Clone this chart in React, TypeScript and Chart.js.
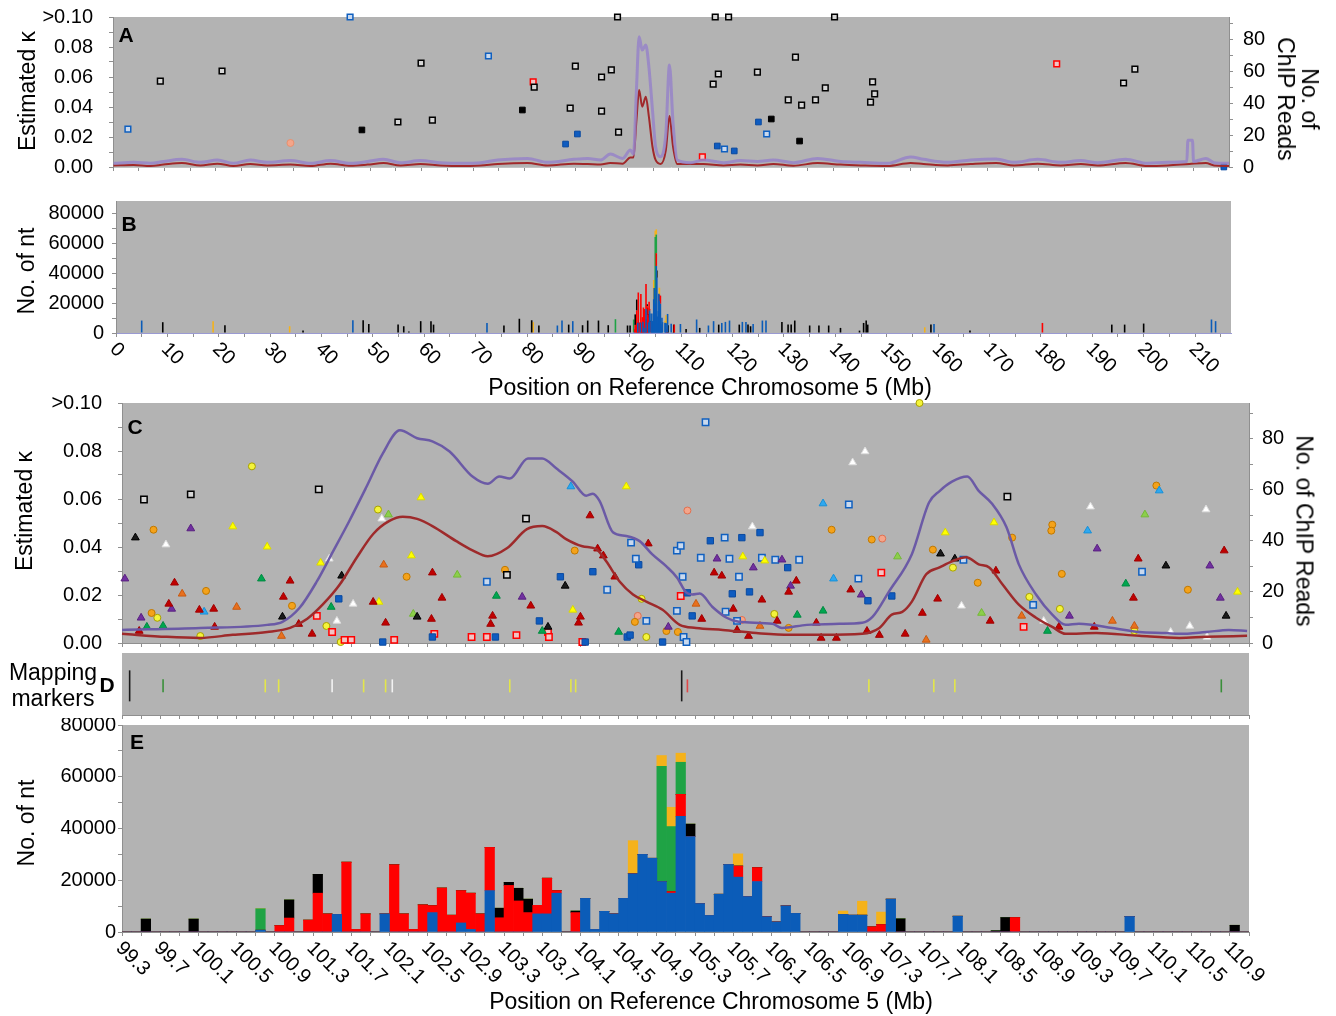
import React, { useEffect, useRef } from 'react';
import { Chart, registerables } from 'chart.js';

Chart.register(...registerables);

const FONT_FAMILY = "'Liberation Sans', Arial, Helvetica, sans-serif";
const PLOT_BG = '#b3b3b3';
const TICK_COLOR = '#8f8f8f';

// ---------------- axis ticks / labels ----------------
const KAPPA_MAX = 0.1;
const READS_MAX = 94;
const KAPPA_TICKS = [0, 0.01, 0.02, 0.03, 0.04, 0.05, 0.06, 0.07, 0.08, 0.09, 0.1];
const KAPPA_TICK_LABELS = ['0.00', '', '0.02', '', '0.04', '', '0.06', '', '0.08', '', '>0.10'];
const READS_TICKS = [0, 10, 20, 30, 40, 50, 60, 70, 80, 90];
const READS_TICK_LABELS = ['0', '', '20', '', '40', '', '60', '', '80', ''];
const NT_TICKS = [0, 10000, 20000, 30000, 40000, 50000, 60000, 70000, 80000];
const NT_TICK_LABELS = ['0', '', '20000', '', '40000', '', '60000', '', '80000'];
const NT_MAX_B = 88000;
const NT_MAX_E = 80000;
const CHROM_MAX = 217;
const CHROM_TICK_STEP = 5;
const CHROM_TICK_LABELS = ['0', '10', '20', '30', '40', '50', '60', '70', '80', '90', '100', '110', '120', '130', '140', '150', '160', '170', '180', '190', '200', '210'];
const ZOOM_MIN = 99.3;
const ZOOM_MAX = 111.1;
const ZOOM_TICK_STEP = 0.2;
const ZOOM_TICK_LABELS = ['99.3', '99.7', '100.1', '100.5', '100.9', '101.3', '101.7', '102.1', '102.5', '102.9', '103.3', '103.7', '104.1', '104.5', '104.9', '105.3', '105.7', '106.1', '106.5', '106.9', '107.3', '107.7', '108.1', '108.5', '108.9', '109.3', '109.7', '110.1', '110.5', '110.9'];

// ---------------- Panel A: whole chromosome, kappa + ChIP reads ----------------
const A_BLACK_OPEN = [[9.2, 0.0573], [21.2, 0.064], [55.4, 0.03], [59.9, 0.0693], [62.1, 0.0313], [81.9, 0.0533], [89.9, 0.0673], [88.9, 0.0393], [95.0, 0.06], [96.9, 0.0647], [95.0, 0.0373], [98.3, 0.0233], [98.1, 0.1], [117.1, 0.1], [119.7, 0.1], [140.3, 0.1], [117.7, 0.062], [116.7, 0.0553], [125.3, 0.0633], [132.7, 0.0733], [131.3, 0.0447], [133.9, 0.0413], [136.6, 0.0447], [138.5, 0.0527], [147.7, 0.0567], [148.1, 0.0487], [147.3, 0.0433], [198.7, 0.0653], [196.5, 0.056]];
const A_BLACK_FILLED = [[48.4, 0.0247], [79.6, 0.038], [128.0, 0.032], [133.5, 0.0173]];
const A_BLUE_OPEN = [[2.9, 0.0253], [46.1, 0.1], [73.0, 0.074], [118.9, 0.012], [127.1, 0.022]];
const A_BLUE_FILLED = [[90.3, 0.022], [88.0, 0.0153], [117.5, 0.014], [120.8, 0.0107], [125.5, 0.03], [216.0, 0]];
const A_RED_OPEN = [[81.7, 0.0567], [114.6, 0.0067], [183.5, 0.0687]];
const A_SALMON = [[34.5, 0.016]];
const A_PURPLE_READS = [[0.1, 2.3], [4.0, 2.9], [7.3, 2.3], [9.8, 3.4], [13.4, 4.8], [17.0, 2.9], [20.3, 4.4], [23.4, 2.3], [26.7, 4.4], [30.0, 2.9], [34.5, 4.0], [38.4, 2.3], [42.3, 4.0], [46.2, 2.3], [49.5, 3.4], [52.6, 4.8], [55.9, 2.7], [59.8, 4.0], [63.7, 2.7], [67.6, 2.3], [71.5, 2.7], [74.8, 4.4], [80.6, 5.4], [84.5, 2.9], [89.6, 4.8], [92.3, 5.4], [94.8, 4.4], [96.7, 8.1], [99.1, 5.4], [100.6, 10.6], [101.2, 8], [101.8, 50], [102.3, 81.6], [102.9, 73.3], [103.6, 76.4], [104.2, 62.8], [104.9, 35.7], [105.5, 12.7], [106.5, 6.5], [107.5, 21.0], [108.2, 63.9], [108.9, 27.5], [109.7, 4.4], [112.3, 2.7], [114.8, 4.4], [118.7, 2.7], [122.0, 4.0], [125.3, 3.4], [128.4, 4.4], [132.3, 2.7], [137.0, 5.4], [141.5, 3.4], [145.4, 2.9], [150.6, 2.3], [155.1, 6.3], [157.6, 4.8], [162.3, 2.9], [166.8, 4.4], [171.7, 5.0], [175.2, 2.9], [179.8, 4.8], [184.3, 2.9], [188.2, 4.0], [191.5, 2.7], [196.9, 4.8], [201.2, 2.3], [205.1, 2.9], [208.8, 3.4], [209.0, 16.7], [209.9, 16.7], [210.1, 3.4], [212.5, 5.4], [214.1, 2.7], [217.0, 2.3]];
const A_RED_READS = [[0.1, 1.0], [4.0, 1.3], [7.3, 0.6], [9.8, 1.5], [13.4, 2.5], [17.0, 1.0], [20.3, 2.1], [23.4, 0.6], [26.7, 1.9], [30.0, 1.0], [34.5, 1.5], [38.4, 0.6], [42.3, 2.1], [46.2, 0.8], [49.5, 1.5], [52.6, 2.5], [55.9, 1.0], [59.8, 1.9], [63.7, 1.0], [67.6, 0.6], [71.5, 1.0], [74.8, 1.9], [80.6, 2.5], [84.5, 1.0], [89.6, 2.1], [92.3, 1.9], [94.8, 1.5], [96.7, 2.5], [99.1, 2.1], [100.6, 6.0], [101.2, 6], [101.8, 30], [102.3, 48.2], [102.9, 37.8], [103.6, 44.0], [104.2, 31.5], [104.9, 12.7], [105.5, 4.4], [106.5, 1.9], [107.5, 10.6], [108.2, 31.9], [108.9, 12.7], [109.7, 1.9], [114.8, 1.9], [118.7, 1.0], [122.0, 1.5], [125.3, 1.0], [128.4, 1.9], [132.3, 0.8], [137.0, 2.5], [141.5, 1.5], [145.4, 1.0], [150.6, 0.6], [155.1, 2.5], [157.6, 1.9], [162.3, 1.0], [166.8, 1.9], [171.7, 2.5], [175.2, 1.0], [179.8, 2.1], [184.3, 1.0], [188.2, 1.9], [191.5, 1.0], [196.9, 2.5], [201.2, 0.6], [205.1, 1.0], [209.3, 1.9], [212.5, 2.5], [214.1, 1.0], [217.0, 0.6]];

// ---------------- Panel B: nt per position, outside the zoom window ----------------
const B_BLUE = [[5.0, 8300], [46.1, 8500], [72.2, 6700], [85.9, 5000], [86.8, 8300], [88.9, 7900], [113.0, 9000], [115.3, 5000], [116.3, 7900], [117.9, 6700], [118.6, 7400], [119.4, 8300], [121.9, 7400], [122.6, 7400], [124.0, 6000], [125.8, 8300], [126.5, 8300], [159.2, 6000], [213.2, 9000], [214.0, 7900]];
const B_BLACK = [[9.1, 7200], [21.2, 5200], [36.4, 1600], [48.1, 8500], [49.2, 6000], [54.9, 5600], [56.0, 4500], [57.0, 1000], [59.3, 7900], [61.3, 7900], [61.8, 5600], [75.5, 5000], [78.5, 9500], [80.9, 8500], [82.3, 5000], [88.1, 5600], [90.8, 5200], [91.8, 8300], [93.9, 8300], [95.8, 5200], [113.6, 3400], [117.3, 5600], [121.3, 5600], [123.0, 5600], [123.5, 4500], [129.6, 7400], [130.8, 5600], [131.4, 5600], [132.1, 8300], [135.0, 5000], [136.8, 5000], [138.7, 5000], [141.0, 3400], [144.7, 1600], [145.5, 6700], [146.0, 8300], [146.3, 5600], [158.6, 5600], [166.2, 1600], [193.8, 5600], [196.3, 5600], [200.0, 6300]];
const B_ORANGE = [[18.9, 7900], [33.8, 4500], [81.2, 7200], [157.4, 3800]];
const B_GREEN = [[97.2, 9200]];
const B_RED = [[180.3, 6700]];

// ---------------- Panel C: zoom window kappa points + ChIP read lines ----------------
const C_RED_TRI = [[99.85, 0.0251], [99.79, 0.0163], [99.48, 0.005], [100.11, 0.0138], [100.26, 0.0142], [100.27, 0.0067], [101.06, 0.0259], [100.99, 0.0192], [101.15, 0.0079], [101.29, 0.0038], [102.55, 0.0293], [102.65, 0.0188], [101.93, 0.0171], [102.06, 0.0084], [102.54, 0.01], [103.18, 0.0113], [103.16, 0.0079], [103.58, 0.0155], [104.10, 0.0109], [104.08, 0.0084], [104.20, 0.0531], [104.28, 0.0393], [104.34, 0.0364], [104.46, 0.0276], [104.81, 0.0414], [105.37, 0.01], [105.50, 0.0293], [105.58, 0.028], [106.36, 0.0259], [106.28, 0.0213], [106.00, 0.018], [105.70, 0.0142], [106.57, 0.0084], [106.16, 0.0092], [105.74, 0.0054], [105.86, 0.0029], [106.62, 0.0021], [106.78, 0.0021], [107.10, 0.005], [107.23, 0.0033], [106.93, 0.0222], [107.50, 0.0038], [107.68, 0.0125], [107.84, 0.0184], [108.39, 0.0092], [108.45, 0.0301], [109.11, 0.0067], [109.48, 0.0067], [109.94, 0.0351], [109.89, 0.0188], [110.84, 0.0385]];
const C_PURPLE_TRI = [[99.33, 0.0268], [99.82, 0.0142], [99.50, 0.0105], [100.02, 0.0477], [103.49, 0.0192], [105.02, 0.0067], [105.53, 0.0351], [105.91, 0.0314], [106.21, 0.0347], [106.30, 0.0238], [107.04, 0.0201], [109.22, 0.0113], [109.51, 0.0393], [110.69, 0.0322], [110.80, 0.0188]];
const C_GREEN_TRI = [[99.56, 0.0067], [99.73, 0.0071], [100.76, 0.0268], [101.49, 0.015], [103.22, 0.0196], [103.70, 0.005], [104.50, 0.0046], [106.37, 0.0117], [106.64, 0.0134], [108.99, 0.005], [109.81, 0.0247]];
const C_BLACK_TRI = [[99.44, 0.0439], [100.98, 0.0109], [101.60, 0.028], [102.39, 0.0109], [103.76, 0.0067], [103.94, 0.0238], [107.87, 0.0372], [108.02, 0.0351], [110.23, 0.0322], [110.86, 0.0113]];
const C_ORANGE_TRI = [[99.93, 0.0205], [100.50, 0.015], [100.97, 0.0029], [102.04, 0.0326], [105.31, 0.0163], [105.98, 0.0071], [107.72, 0.0013], [108.72, 0.0113], [109.67, 0.0092], [109.90, 0.0071]];
const C_YELLOW_TRI = [[100.46, 0.0485], [100.82, 0.0401], [101.38, 0.0334], [102.33, 0.0364], [102.43, 0.0606], [101.99, 0.0171], [104.02, 0.0138], [104.58, 0.0652], [105.80, 0.036], [106.03, 0.0343], [107.92, 0.046], [108.43, 0.0502], [110.98, 0.0213]];
const C_CYAN_TRI = [[100.16, 0.013], [104.00, 0.0652], [106.64, 0.0581], [106.75, 0.0268], [109.41, 0.0468], [110.16, 0.0635]];
const C_WHITE_TRI = [[99.76, 0.041], [101.47, 0.0351], [101.72, 0.0163], [101.55, 0.0092], [102.02, 0.0518], [105.90, 0.0485], [106.95, 0.0752], [107.08, 0.0798], [108.09, 0.0155], [108.95, 0.0092], [109.44, 0.0568], [110.28, 0.0046], [110.48, 0.0071], [110.65, 0.0556], [110.66, 0.0025]];
const C_LIME = [[102.09, 0.0535], [102.35, 0.0121], [102.81, 0.0284], [107.42, 0.036], [108.30, 0.0125], [110.01, 0.0535]];
const C_BLUE_OPEN = [[103.12, 0.0255], [104.38, 0.0222], [104.63, 0.0418], [104.68, 0.0351], [104.79, 0.0092], [105.11, 0.0385], [105.15, 0.0405], [105.41, 0.092], [105.17, 0.0276], [105.11, 0.0134], [105.18, 0.0025], [105.21, 0.0004], [105.61, 0.0439], [105.36, 0.0355], [105.66, 0.0351], [106.00, 0.0355], [106.14, 0.0347], [106.39, 0.0347], [105.76, 0.0276], [105.62, 0.013], [105.74, 0.0092], [106.91, 0.0577], [107.01, 0.0268], [108.11, 0.0347], [108.84, 0.0159], [109.98, 0.0297]];
const C_BLUE_FILLED = [[101.57, 0.0184], [102.03, 0.0004], [102.55, 0.0025], [103.21, 0.0025], [103.67, 0.0092], [103.89, 0.0276], [104.15, 0.0004], [104.23, 0.0297], [104.71, 0.0326], [104.59, 0.0025], [104.62, 0.0033], [104.96, 0.0004], [105.22, 0.0209], [105.27, 0.0113], [105.46, 0.0426], [105.79, 0.0439], [105.98, 0.046], [106.27, 0.0314], [105.69, 0.0205], [105.87, 0.0213], [107.11, 0.0176], [107.36, 0.0196]];
const C_RED_OPEN = [[101.34, 0.0113], [101.50, 0.0046], [101.63, 0.0013], [101.70, 0.0013], [102.15, 0.0013], [102.57, 0.0038], [102.96, 0.0025], [103.12, 0.0025], [103.43, 0.0033], [103.76, 0.0046], [103.77, 0.0025], [104.12, 0.0004], [105.15, 0.0196], [107.25, 0.0293], [108.74, 0.0067]];
const C_BLACK_OPEN = [[99.53, 0.0598], [100.02, 0.0619], [101.36, 0.064], [103.33, 0.0284], [103.53, 0.0518], [108.57, 0.061]];
const C_ORANGE_CIRC = [[99.63, 0.0472], [99.61, 0.0125], [100.18, 0.0217], [101.08, 0.0155], [102.28, 0.0276], [103.31, 0.0305], [104.04, 0.0385], [104.67, 0.0088], [105.00, 0.005], [105.12, 0.0046], [106.28, 0.0063], [106.73, 0.0472], [107.15, 0.0431], [107.79, 0.0389], [108.26, 0.0251], [108.62, 0.0439], [109.04, 0.0493], [109.03, 0.0468], [109.14, 0.0288], [110.13, 0.0656], [110.46, 0.0222]];
const C_YELLOW_CIRC = [[99.67, 0.0105], [100.66, 0.0736], [100.12, 0.0029], [101.44, 0.0071], [101.59, 0.0004], [101.98, 0.0556], [104.74, 0.0184], [104.79, 0.0025], [106.13, 0.0121], [107.65, 0.1], [108.00, 0.0314], [108.80, 0.0192], [109.12, 0.0142], [109.90, 0.005]];
const C_SALMON_CIRC = [[104.70, 0.0113], [105.22, 0.0552], [105.79, 0.0096], [107.26, 0.0435]];
const C_PURPLE_READS = [[99.30, 5.1], [100.12, 5.9], [100.82, 7.1], [100.98, 8.3], [101.16, 13.8], [101.34, 24.1], [101.51, 35.9], [101.68, 47.8], [101.86, 61.2], [102.03, 74.2], [102.21, 83.3], [102.39, 80.2], [102.55, 79.0], [102.73, 75.0], [102.97, 65.2], [103.13, 62.4], [103.25, 65.2], [103.36, 64.4], [103.55, 72.3], [103.70, 72.3], [103.85, 68.3], [104.02, 63.2], [104.16, 57.7], [104.23, 58.5], [104.30, 55.7], [104.44, 43.4], [104.58, 41.9], [104.72, 39.9], [104.85, 34.8], [105.00, 30.0], [105.11, 25.7], [105.21, 19.7], [105.27, 19.0], [105.35, 19.4], [105.48, 14.2], [105.63, 9.9], [105.76, 8.3], [106.11, 7.5], [106.21, 5.9], [106.47, 7.1], [106.81, 7.5], [107.05, 7.9], [107.16, 10.3], [107.33, 20.1], [107.57, 34.8], [107.75, 55.0], [107.86, 59.5], [107.99, 63.2], [108.15, 65.2], [108.27, 59.6], [108.41, 54.5], [108.56, 45.4], [108.69, 30.8], [108.87, 19.0], [109.04, 11.1], [109.18, 7.1], [109.32, 7.5], [109.67, 5.9], [109.95, 4.3], [110.23, 3.9], [110.37, 3.6], [110.65, 4.3], [110.89, 5.1], [111.08, 4.7]];
const C_RED_READS = [[99.30, 3.6], [99.77, 2.4], [100.12, 2.0], [100.46, 3.2], [100.82, 4.3], [101.06, 5.9], [101.24, 9.5], [101.40, 15.0], [101.58, 22.9], [101.76, 33.6], [101.93, 42.7], [102.10, 47.8], [102.24, 49.4], [102.39, 48.6], [102.55, 45.8], [102.80, 39.9], [102.97, 36.3], [103.13, 34.0], [103.33, 37.1], [103.54, 44.6], [103.70, 45.8], [103.85, 43.4], [103.95, 40.7], [104.12, 37.9], [104.27, 36.7], [104.37, 32.0], [104.51, 24.1], [104.65, 19.0], [104.79, 16.2], [104.96, 13.0], [105.14, 7.1], [105.31, 5.9], [105.59, 5.1], [105.94, 3.9], [106.29, 3.2], [106.63, 3.2], [107.05, 3.6], [107.23, 5.9], [107.36, 11.1], [107.47, 12.2], [107.57, 16.2], [107.72, 26.9], [107.86, 29.6], [107.99, 32.0], [108.14, 33.6], [108.27, 30.8], [108.38, 29.6], [108.52, 22.9], [108.69, 15.0], [108.87, 9.9], [109.04, 6.3], [109.18, 3.6], [109.50, 3.9], [109.95, 2.8], [110.37, 2.0], [110.65, 2.4], [111.08, 2.8]];

// ---------------- Panel D: mapping markers (Mb) ----------------
const D_BLACK = [99.38, 105.16];
const D_GREEN = [99.73, 110.81];
const D_YELLOW = [100.80, 100.94, 101.83, 102.06, 103.36, 104.00, 104.05, 107.12, 107.80, 108.02];
const D_WHITE = [101.50, 102.13];
const D_RED = [105.22];
const D_TRACK = 0.47;

// ---------------- Panel E: nt per 0.1 Mb bin [bin start Mb, nt] ----------------
const E_BIN_START = 99.3;
const E_BIN_WIDTH = 0.1;
const E_BIN_COUNT = 118;
const E_BLUE = [[100.7, 700], [101.5, 6800], [102.0, 7000], [102.5, 7500], [102.8, 3500], [102.9, 1000], [103.1, 16000], [103.6, 7000], [103.7, 7000], [103.8, 15000], [104.1, 13000], [104.2, 1000], [104.3, 8000], [104.4, 7000], [104.5, 13000], [104.6, 22500], [104.7, 30000], [104.8, 28500], [104.9, 19500], [105.0, 15000], [105.1, 44700], [105.2, 36900], [105.3, 11000], [105.4, 6400], [105.5, 14600], [105.6, 26100], [105.7, 21200], [105.8, 13700], [105.9, 19500], [106.0, 5900], [106.1, 3900], [106.2, 10100], [106.3, 7200], [106.8, 6800], [106.9, 6500], [107.0, 6500], [107.3, 12700], [108.0, 6100], [109.8, 6000]];
const E_RED = [[100.9, 2500], [101.0, 5400], [101.2, 4600], [101.3, 15000], [101.4, 7000], [101.6, 27000], [101.7, 1000], [101.8, 7000], [102.1, 26000], [102.2, 7000], [102.3, 1000], [102.4, 10500], [102.5, 2700], [102.6, 17000], [102.7, 6500], [102.8, 12500], [102.9, 14000], [103.0, 7000], [103.1, 16700], [103.2, 5500], [103.3, 18000], [103.4, 12000], [103.5, 7500], [103.6, 3300], [103.7, 13800], [103.8, 1000], [104.0, 7500], [105.0, 650], [105.1, 8500], [105.7, 4300], [105.9, 5400], [107.1, 2000], [107.2, 2900], [108.6, 5600]];
const E_BLACK = [[99.5, 5000], [100.0, 5000], [101.0, 7000], [101.3, 7300], [103.2, 3700], [103.3, 1200], [103.4, 4900], [103.5, 5200], [104.0, 600], [105.2, 4800], [107.4, 5100], [108.4, 500], [108.5, 5600], [110.9, 2600]];
const E_GREEN = [[100.7, 8300], [104.9, 44500], [105.0, 25100], [105.1, 12400]];
const E_ORANGE = [[104.6, 12800], [104.9, 4200], [105.0, 7450], [105.1, 3500], [105.7, 4700], [106.8, 1300], [107.0, 5400], [107.2, 4800]];

// ---------------- colours ----------------
const BAR_BLUE = '#0b5cb8';
const BAR_RED = '#ff0000';
const BAR_BLACK = '#000000';
const BAR_GREEN = '#1fa345';
const BAR_ORANGE = '#f5b21b';

// ---------------- helpers ----------------
const xy = (arr: number[][]) => arr.map(([x, y]) => ({ x, y }));
const binned = (pairs: number[][]) => {
  const out: { x: number; y: number }[] = [];
  for (let i = 0; i < E_BIN_COUNT; i++) {
    const start = +(E_BIN_START + i * E_BIN_WIDTH).toFixed(1);
    const hit = pairs.find((p) => Math.abs(p[0] - start) < 1e-6);
    out.push({ x: +(start + E_BIN_WIDTH / 2).toFixed(2), y: hit ? hit[1] : 0 });
  }
  return out;
};
const binCenters = (pairs: number[][]) => pairs.map(([s, v]) => ({ x: +(s + E_BIN_WIDTH / 2).toFixed(2), y: v }));
const sortX = (a: { x: number; y: number }[]) => a.slice().sort((p, q) => p.x - q.x);

const chromTicks: number[] = [];
for (let v = 0; v <= CHROM_MAX - 1; v += CHROM_TICK_STEP) chromTicks.push(v);
const zoomTicks: number[] = [];
for (let i = 0; ZOOM_MIN + i * ZOOM_TICK_STEP <= ZOOM_MAX + 1e-6; i++) zoomTicks.push(+(ZOOM_MIN + i * ZOOM_TICK_STEP).toFixed(1));

const TICK_FONT = { family: FONT_FAMILY, size: 20 };

const bgPlugin = {
  id: 'plotBg',
  beforeDraw(chart: any) {
    const { ctx, chartArea: a } = chart;
    ctx.save();
    ctx.fillStyle = PLOT_BG;
    ctx.fillRect(a.left, a.top, a.right - a.left, a.bottom - a.top);
    ctx.restore();
  },
};

const slantPlugin = {
  id: 'slantLabels',
  afterDraw(chart: any, _args: any, opts: any) {
    if (!opts || !opts.labels) return;
    const xs = chart.scales.x;
    const ctx = chart.ctx;
    ctx.save();
    ctx.font = `20px ${FONT_FAMILY}`;
    ctx.fillStyle = '#000';
    ctx.textAlign = 'left';
    ctx.textBaseline = 'middle';
    opts.labels.forEach((lab: string) => {
      const px = xs.getPixelForValue(parseFloat(lab));
      ctx.save();
      ctx.translate(px + opts.dx, xs.top + opts.dy);
      ctx.rotate(Math.PI / 4);
      ctx.fillText(lab, 0, 0);
      ctx.restore();
    });
    ctx.restore();
  },
};

function baseOptions(padding: any, extraPlugins: any = {}) {
  return {
    responsive: false,
    animation: false,
    devicePixelRatio: 1,
    events: [],
    layout: { padding, autoPadding: false },
    plugins: { legend: { display: false }, tooltip: { enabled: false }, ...extraPlugins },
  };
}

const noPad = (s: any) => {
  s.paddingTop = 0;
  s.paddingBottom = 0;
  s.paddingLeft = 0;
  s.paddingRight = 0;
};

function yAxis(o: { min: number; max: number; ticks: number[]; labels: string[]; width: number; padding: number; position?: string; stacked?: boolean }) {
  return {
    type: 'linear',
    position: o.position || 'left',
    min: o.min,
    max: o.max,
    stacked: !!o.stacked,
    afterBuildTicks: (s: any) => { s.ticks = o.ticks.map((v) => ({ value: v })); },
    afterFit: (s: any) => { s.width = o.width; noPad(s); },
    ticks: { callback: (_v: any, i: number) => o.labels[i], font: TICK_FONT, color: '#000', padding: o.padding, autoSkip: false },
    grid: { display: true, drawOnChartArea: false, drawTicks: true, tickLength: 4, color: TICK_COLOR },
    border: { display: true, color: TICK_COLOR },
  };
}

function xAxis(o: { min: number; max: number; ticks: number[]; height: number; border?: string; stacked?: boolean }) {
  return {
    type: 'linear',
    min: o.min,
    max: o.max,
    offset: false,
    stacked: !!o.stacked,
    afterBuildTicks: (s: any) => { s.ticks = o.ticks.map((v) => ({ value: v })); },
    afterFit: (s: any) => { s.height = o.height; noPad(s); },
    ticks: { display: false, autoSkip: false },
    grid: { display: true, drawOnChartArea: false, drawTicks: true, tickLength: 4, color: TICK_COLOR, offset: false },
    border: { display: true, color: o.border || TICK_COLOR, width: 1 },
  };
}

function pointSet(data: number[][], style: string, fill: string, stroke: string, radius: number, borderWidth = 1) {
  return {
    type: 'scatter',
    data: xy(data),
    yAxisID: 'y',
    pointStyle: style,
    pointRadius: radius,
    pointBackgroundColor: fill,
    pointBorderColor: stroke,
    pointBorderWidth: borderWidth,
    showLine: false,
    clip: false,
  };
}

function lineSet(data: number[][], color: string, width: number) {
  return {
    type: 'line',
    data: xy(data),
    yAxisID: 'y2',
    borderColor: color,
    borderWidth: width,
    pointRadius: 0,
    showLine: true,
    fill: false,
    tension: 0.3,
    cubicInterpolationMode: 'monotone',
    clip: false,
  };
}

// ---------------- chart configs ----------------
function makeA() {
  return {
    type: 'scatter',
    data: {
      datasets: [
        { ...lineSet(A_PURPLE_READS, 'rgba(150,132,200,0.85)', 3), tension: 0.15 },
        { ...lineSet(A_RED_READS, '#a0282a', 2), tension: 0.15 },
        pointSet(A_BLACK_OPEN, 'rect', '#d6d6d6', '#000', 4, 1.5),
        pointSet(A_BLACK_FILLED, 'rect', '#000', '#000', 4, 1),
        pointSet(A_BLUE_OPEN, 'rect', '#c9d9ee', '#1060c0', 4, 1.5),
        pointSet(A_BLUE_FILLED, 'rect', '#0f5cc0', '#0a4aa0', 4, 1),
        pointSet(A_RED_OPEN, 'rect', '#f2c4c4', '#ff0000', 4, 1.5),
        pointSet(A_SALMON, 'circle', '#f4a58a', '#e8906e', 3.5, 1),
      ],
    },
    options: {
      ...baseOptions({ top: 17, left: 0, right: 0, bottom: 0 }),
      scales: {
        x: xAxis({ min: 0, max: CHROM_MAX, ticks: chromTicks, height: 23, border: '#c4c4c4' }),
        y: yAxis({ min: 0, max: KAPPA_MAX, ticks: KAPPA_TICKS, labels: KAPPA_TICK_LABELS, width: 113, padding: 16 }),
        y2: yAxis({ min: 0, max: READS_MAX, ticks: READS_TICKS, labels: READS_TICK_LABELS, width: 107, padding: 10, position: 'right' }),
      },
    },
    plugins: [bgPlugin],
  };
}

function makeB() {
  const combine = (e: number[][], b: number[][]) => sortX([...binCenters(e), ...xy(b)]);
  const bar = (data: any[], color: string) => ({ data, backgroundColor: color, borderWidth: 0, barThickness: 1.6, inflateAmount: 0 });
  return {
    type: 'bar',
    data: {
      datasets: [
        bar(combine(E_BLUE, B_BLUE), BAR_BLUE),
        bar(combine(E_RED, B_RED), BAR_RED),
        bar(combine(E_BLACK, B_BLACK), BAR_BLACK),
        bar(combine(E_GREEN, B_GREEN), BAR_GREEN),
        bar(combine(E_ORANGE, B_ORANGE), BAR_ORANGE),
      ],
    },
    options: {
      ...baseOptions({ top: 11, left: 0, right: 105, bottom: 0 }, { slantLabels: { labels: CHROM_TICK_LABELS, dx: -3, dy: 13 } }),
      scales: {
        x: xAxis({ min: 0, max: CHROM_MAX, ticks: chromTicks, height: 67, border: '#9a9ad2', stacked: true }),
        y: yAxis({ min: 0, max: NT_MAX_B, ticks: NT_TICKS, labels: NT_TICK_LABELS, width: 116, padding: 8, stacked: true }),
      },
    },
    plugins: [bgPlugin, slantPlugin],
  };
}

function makeC() {
  return {
    type: 'scatter',
    data: {
      datasets: [
        lineSet(C_PURPLE_READS, '#6b5aa6', 2.5),
        lineSet(C_RED_READS, '#9e2a2b', 2.5),
        pointSet(C_RED_TRI, 'triangle', '#c00000', '#a00000', 4.5),
        pointSet(C_PURPLE_TRI, 'triangle', '#7030a0', '#5a2080', 4.5),
        pointSet(C_GREEN_TRI, 'triangle', '#00a650', '#008a40', 4.5),
        pointSet(C_BLACK_TRI, 'triangle', '#1a1a1a', '#000', 4.5),
        pointSet(C_ORANGE_TRI, 'triangle', '#e8701e', '#c85a10', 4.5),
        pointSet(C_YELLOW_TRI, 'triangle', '#ffff00', '#d8d800', 4.5),
        pointSet(C_CYAN_TRI, 'triangle', '#2ea8f0', '#1890d8', 4.5),
        pointSet(C_WHITE_TRI, 'triangle', '#ffffff', '#dddddd', 4.5),
        pointSet(C_LIME, 'triangle', '#8ccf4a', '#74b838', 4.5),
        pointSet(C_BLUE_OPEN, 'rect', '#c9d9ee', '#1060c0', 4.5, 1.5),
        pointSet(C_BLUE_FILLED, 'rect', '#0f5cc0', '#0a4aa0', 4.5, 1),
        pointSet(C_RED_OPEN, 'rect', '#f2c4c4', '#ff0000', 4.5, 1.5),
        pointSet(C_BLACK_OPEN, 'rect', '#d6d6d6', '#000', 4.5, 1.5),
        pointSet(C_ORANGE_CIRC, 'circle', '#f4a21a', '#c07800', 3.5),
        pointSet(C_YELLOW_CIRC, 'circle', '#f4f43a', '#a8a000', 3.5),
        pointSet(C_SALMON_CIRC, 'circle', '#f4a58a', '#e07050', 3.5),
      ],
    },
    options: {
      ...baseOptions({ top: 10, left: 0, right: 0, bottom: 0 }),
      scales: {
        x: xAxis({ min: ZOOM_MIN, max: ZOOM_MAX, ticks: zoomTicks, height: 10 }),
        y: yAxis({ min: 0, max: KAPPA_MAX, ticks: KAPPA_TICKS, labels: KAPPA_TICK_LABELS, width: 122, padding: 16 }),
        y2: yAxis({ min: 0, max: READS_MAX, ticks: READS_TICKS, labels: READS_TICK_LABELS, width: 87, padding: 9, position: 'right' }),
      },
    },
    plugins: [bgPlugin],
  };
}

function makeD() {
  const marks = (xs: number[], color: string, radius: number) => ({
    data: xs.map((x) => ({ x, y: D_TRACK })),
    pointStyle: 'line',
    pointRotation: 90,
    pointRadius: radius,
    pointBorderColor: color,
    pointBackgroundColor: color,
    pointBorderWidth: 1.6,
    showLine: false,
    clip: false,
  });
  return {
    type: 'scatter',
    data: {
      datasets: [
        marks(D_BLACK, '#1a1a1a', 15.5),
        marks(D_GREEN, '#3a8f3a', 6.5),
        marks(D_YELLOW, '#e3e64a', 6.5),
        marks(D_WHITE, '#f2f2f2', 6.5),
        marks(D_RED, '#e04848', 6.5),
      ],
    },
    options: {
      ...baseOptions({ top: 5, left: 122, right: 87, bottom: 0 }),
      scales: {
        x: xAxis({ min: ZOOM_MIN, max: ZOOM_MAX, ticks: zoomTicks, height: 7 }),
        y: { type: 'linear', display: false, min: 0, max: 1 },
      },
    },
    plugins: [bgPlugin],
  };
}

function makeE() {
  const bar = (pairs: number[][], color: string) => ({ data: binned(pairs), backgroundColor: color, borderWidth: 0, barPercentage: 1, categoryPercentage: 1 });
  return {
    type: 'bar',
    data: {
      datasets: [
        bar(E_BLUE, BAR_BLUE),
        bar(E_RED, BAR_RED),
        bar(E_BLACK, BAR_BLACK),
        bar(E_GREEN, BAR_GREEN),
        bar(E_ORANGE, BAR_ORANGE),
      ],
    },
    options: {
      ...baseOptions({ top: 7, left: 0, right: 87, bottom: 0 }, { slantLabels: { labels: ZOOM_TICK_LABELS, dx: -3, dy: 13 } }),
      scales: {
        x: xAxis({ min: ZOOM_MIN, max: ZOOM_MAX, ticks: zoomTicks, height: 84, stacked: true }),
        y: yAxis({ min: 0, max: NT_MAX_E, ticks: NT_TICKS, labels: NT_TICK_LABELS, width: 122, padding: 2, stacked: true }),
      },
    },
    plugins: [bgPlugin, slantPlugin],
  };
}

// ---------------- components ----------------
function Panel({ top, height, make }: { top: number; height: number; make: () => any }) {
  const ref = useRef<HTMLCanvasElement | null>(null);
  useEffect(() => {
    if (!ref.current) return;
    const chart = new Chart(ref.current, make());
    return () => chart.destroy();
  }, []);
  return <canvas ref={ref} width={1336} height={height} style={{ position: 'absolute', left: 0, top, width: 1336, height, display: 'block' }} />;
}

function Label({ x, y, rot = 0, size = 23, bold = false, children, lineHeight }: any) {
  return (
    <div
      style={{
        position: 'absolute',
        left: x,
        top: y,
        transform: `translate(-50%, -50%) rotate(${rot}deg)`,
        whiteSpace: 'nowrap',
        fontFamily: FONT_FAMILY,
        fontSize: size,
        fontWeight: bold ? 'bold' : 'normal',
        lineHeight: lineHeight ? `${lineHeight}px` : 'normal',
        textAlign: 'center',
        color: '#000',
      }}
    >
      {children}
    </div>
  );
}

export default function App() {
  return (
    <div style={{ position: 'absolute', left: 0, top: 0, width: 1336, height: 1016, background: '#fff', overflow: 'hidden' }}>
      <Panel top={0} height={190} make={makeA} />
      <Panel top={190} height={210} make={makeB} />
      <Panel top={393} height={260} make={makeC} />
      <Panel top={648} height={74} make={makeD} />
      <Panel top={718} height={298} make={makeE} />

      <Label x={27} y={91} rot={-90}>Estimated κ</Label>
      <Label x={1298} y={99} rot={90} lineHeight={24}>No. of<br />ChIP Reads</Label>
      <Label x={26} y={271} rot={-90}>No. of nt</Label>
      <Label x={710} y={387}>Position on Reference Chromosome 5 (Mb)</Label>
      <Label x={24} y={511} rot={-90}>Estimated κ</Label>
      <Label x={1304} y={531} rot={90}>No. of ChIP Reads</Label>
      <Label x={53} y={685} lineHeight={26}>Mapping<br />markers</Label>
      <Label x={26} y={823} rot={-90}>No. of nt</Label>
      <Label x={711} y={1001}>Position on Reference Chromosome 5 (Mb)</Label>

      <Label x={126} y={35} size={21} bold>A</Label>
      <Label x={129} y={224} size={21} bold>B</Label>
      <Label x={135} y={427} size={21} bold>C</Label>
      <Label x={107} y={685} size={21} bold>D</Label>
      <Label x={137} y={742} size={21} bold>E</Label>
    </div>
  );
}
